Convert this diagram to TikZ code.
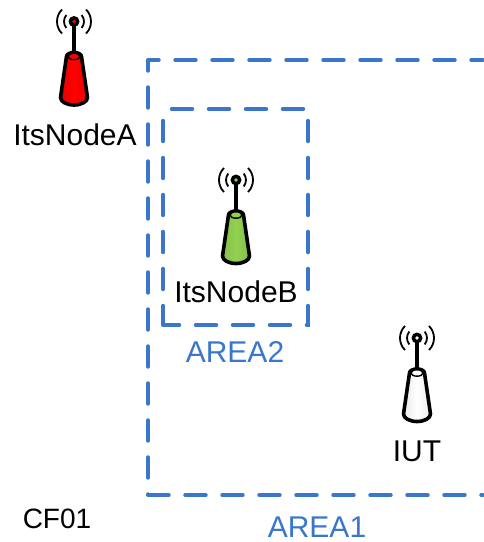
\documentclass[tikz,border=0pt]{standalone}
\usepackage{fontspec}
\setmainfont{Liberation Sans}
\usetikzlibrary{positioning}
\definecolor{areablue}{HTML}{3A76CC}
\definecolor{nodered}{HTML}{FF0000}
\definecolor{nodegreen}{HTML}{92D050}
\tikzset{
	arealine/.style={draw=areablue,line width=3.4pt,line cap=round,line join=miter,dash pattern=on 21pt off 16pt},
	arealabel/.style={text=areablue,font=\fontsize{30}{30}\selectfont,inner sep=0pt},
	nodelabel/.style={text=black,font=\fontsize{30}{30}\selectfont,inner sep=0pt},
	pics/antenna/.style={code={
		% waves
		\draw [line width=1.8pt] (140:10) arc (140:220:10);
		\draw [line width=1.8pt] (135:17) arc (135:225:17);
		\draw [line width=1.8pt] (40:10) arc (40:-40:10);
		\draw [line width=1.8pt] (45:17) arc (45:-45:17);
		% mast
		\draw [line width=3.2pt] (0,0) -- (0,32);
		\fill [black] (0,0) circle (5.5);
		\fill [#1] (0,0) circle (1.8);
		% body
		\draw [line width=3.6pt,line join=round,left color=#1!92!black,right color=#1!92!black,middle color=#1]
			(-7.5,35) -- (-13.5,76) arc (180:0:13.5 and 7.5) -- (7.5,35) arc (0:-180:7.5 and 4) -- cycle;
		\draw [line width=1.4pt,fill=#1] (0,35) ellipse (6 and 3.2);
	}}
}
\begin{document}
\begin{tikzpicture}[x=1pt,y=-1pt]
	\useasboundingbox (0,0) rectangle (483,542);
	% areas
	\draw [arealine,dash phase=10pt] (148,60) -- (483,60);
	\draw [arealine,dash phase=10pt] (148,60) -- (148,495);
	\draw [arealine] (148,495) -- (483,495);
	\draw [arealine,dash phase=28.5pt] (163,109) -- (308,109) -- (308,325) -- (163,325);
	\draw [arealine,dash phase=1.5pt] (163,325) -- (163,109);
	% radios
	\pic at (74,21.5) {antenna=nodered};
	\pic at (236,180) {antenna=nodegreen};
	\pic at (417,338) {antenna=white};
	% labels
	\node [nodelabel] (nodeA) at (75,135) {ItsNodeA};
	\node [nodelabel] (nodeB) at (236,292) {ItsNodeB};
	\node [nodelabel] (iut) at (417,451) {IUT};
	\node [arealabel] (area2) at (235,352) {AREA2};
	\node [arealabel] (area1) at (317,527.5) {AREA1};
	\node [nodelabel,font=\fontsize{28}{28}\selectfont] (cf) at (57,519) {CF01};
\end{tikzpicture}
\end{document}
